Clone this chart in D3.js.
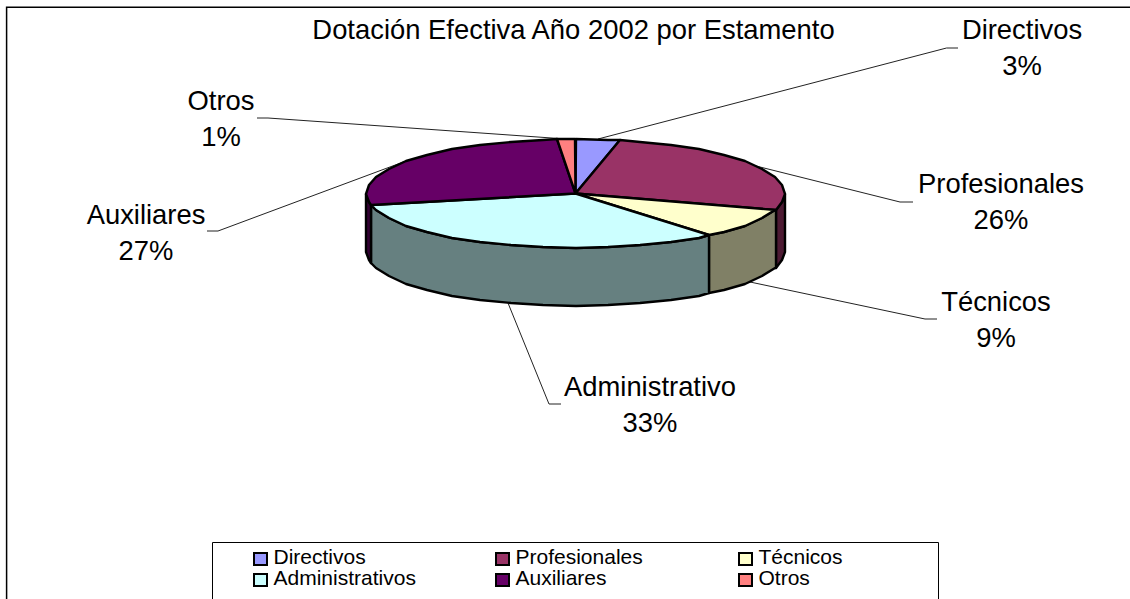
<!DOCTYPE html>
<html>
<head>
<meta charset="utf-8">
<script src="https://cdn.jsdelivr.net/npm/d3@7"></script>
<style>
    html, body { margin: 0; padding: 0; background: #fff; overflow: hidden; }
    svg { display: block; }
    text { font-family: "Liberation Sans", Arial, sans-serif; fill: #000; }
</style>
</head>
<body>
<svg id="chart" width="1130" height="599"></svg>
<script>
var titleText = "Dotación Efectiva Año 2002 por Estamento";
var categories = ["Directivos", "Profesionales", "Técnicos", "Administrativos", "Auxiliares", "Otros"];
var sliceLabels = ["Directivos", "Profesionales", "Técnicos", "Administrativo", "Auxiliares", "Otros"];
var shares = [3.4, 26.4, 9.2, 32.5, 27.1, 1.4];
var percentLabels = ["3%", "26%", "9%", "33%", "27%", "1%"];
var topColors = ["#9999ff", "#993366", "#ffffcc", "#ccffff", "#660066", "#ff8080"];
var sideColors = ["#4d4d80", "#4d1a33", "#808066", "#668080", "#330033", "#804040"];

// where the labels sit, and the elbow of each leader line
var labelX = [1022, 1001, 996, 650, 146, 221];
var labelY = [39, 193, 311, 396, 224, 110];
var elbowX = [946.5, 900, 925, 549, 218, 268];
var elbowY = [48, 202, 319, 404, 231, 118];
var stubX = [958, 913, 937, 561, 207, 257];

var wallDepth = 58;
var step = 9 * Math.PI / 180;

var svg = d3.select("#chart");

//unit circle -> the squashed ellipse of the pie top
var x = d3.scaleLinear().domain([-1, 1]).range([366, 785]);
var y = d3.scaleLinear().domain([-1, 1]).range([139, 248]);

var line = d3.line();

//snapped to whole pixels, that gives the bumpy outline of the source
function rim(angle, drop) {
    return [Math.round(x(Math.sin(angle))), Math.round(y(-Math.cos(angle)) + (drop || 0))];
}

function rimPoints(a0, a1, drop) {
    var pts = [];
    var first = Math.ceil(a0 / step + 1e-6);
    pts.push(rim(a0, drop));
    for (var k = first; k * step < a1 - 1e-6; k++) {
        pts.push(rim(k * step, drop));
    }
    pts.push(rim(a1, drop));
    return pts;
}

var slices = d3.pie().sort(null).value(function(d) { return d; })(shares);

//frame, open on the right and at the bottom like the source
svg.append("path")
    .attr("d", line([[6.6, 599], [6.6, 7.2], [1130, 7.2]]))
    .attr("fill", "none")
    .attr("stroke", "#000")
    .attr("stroke-width", 1.5);

svg.append("text")
    .attr("x", 573.5)
    .attr("y", 39)
    .attr("text-anchor", "middle")
    .style("font-size", "27.4px")
    .text(titleText);

//leader lines go under the pie, they aim at the middle of each slice
slices.forEach(function(s, i) {
    var mid = (s.startAngle + s.endAngle) / 2;
    var onWall = mid > Math.PI / 2 && mid < 3 * Math.PI / 2;
    svg.append("path")
        .attr("d", line([rim(mid, onWall ? wallDepth : 0), [elbowX[i], elbowY[i]], [stubX[i], elbowY[i]]]))
        .attr("fill", "none")
        .attr("stroke", "#222")
        .attr("stroke-width", 1);
});

//walls: only the front half of the rim shows
slices.forEach(function(s, i) {
    var a0 = Math.max(s.startAngle, Math.PI / 2);
    var a1 = Math.min(s.endAngle, 3 * Math.PI / 2);
    if (a1 <= a0) { return; }
    var upper = rimPoints(a0, a1, 0);
    var lower = rimPoints(a0, a1, wallDepth).reverse();
    svg.append("path")
        .attr("d", line(upper.concat(lower)) + "Z")
        .attr("fill", sideColors[i])
        .attr("stroke", "#000")
        .attr("stroke-width", 2.4)
        .attr("stroke-linejoin", "round");
});

//pie top
slices.forEach(function(s, i) {
    var pts = [[x(0), y(0)]].concat(rimPoints(s.startAngle, s.endAngle, 0));
    svg.append("path")
        .attr("d", line(pts) + "Z")
        .attr("fill", topColors[i])
        .attr("stroke", "#000")
        .attr("stroke-width", 2.4)
        .attr("stroke-linejoin", "round");
});

//slice labels
sliceLabels.forEach(function(name, i) {
    var g = svg.append("text")
        .attr("text-anchor", "middle")
        .style("font-size", "27.4px");
    g.append("tspan").attr("x", labelX[i]).attr("y", labelY[i]).text(name);
    g.append("tspan").attr("x", labelX[i]).attr("y", labelY[i] + 35.5).text(percentLabels[i]);
});

//legend
svg.append("path")
    .attr("d", line([[212.5, 599], [212.5, 542.5], [938.5, 542.5], [938.5, 599]]))
    .attr("fill", "none")
    .attr("stroke", "#000")
    .attr("stroke-width", 1);

var legendCol = d3.scaleOrdinal().domain([0, 1, 2]).range([254, 496, 739]);
var legendRow = d3.scaleOrdinal().domain([0, 1]).range([553, 574]);

var legend = svg.selectAll("g.legend-item")
    .data(categories)
    .enter()
    .append("g")
    .attr("class", "legend-item")
    .attr("transform", function(d, i) {
        return "translate(" + legendCol(i % 3) + "," + legendRow(Math.floor(i / 3)) + ")";
    });

legend.append("rect")
    .attr("width", 13)
    .attr("height", 12)
    .attr("fill", function(d, i) { return topColors[i]; })
    .attr("stroke", "#000")
    .attr("stroke-width", 2);

legend.append("text")
    .attr("x", 19.5)
    .attr("y", 10.5)
    .style("font-size", "21px")
    .text(function(d) { return d; });
</script>
</body>
</html>
